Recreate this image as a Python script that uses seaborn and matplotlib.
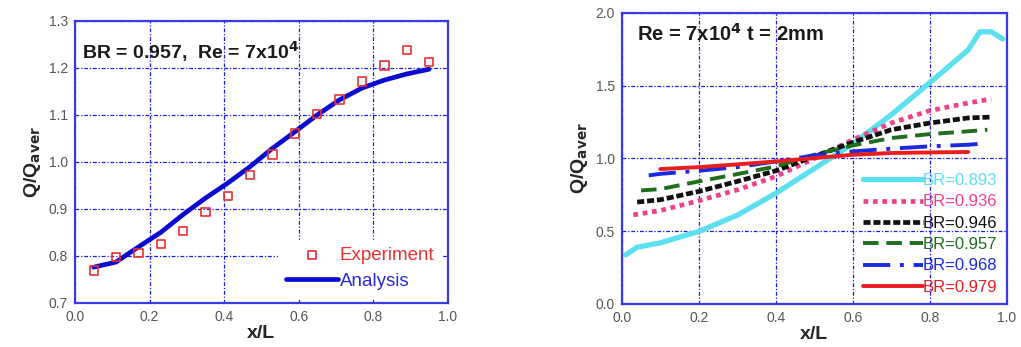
import numpy as np
import pandas as pd
import matplotlib
matplotlib.use("Agg")
import matplotlib.pyplot as plt
import seaborn as sns

sns.set_style("white")
plt.rcParams["font.family"] = ["Liberation Sans", "DejaVu Sans"]

# ---- left panel data: BR = 0.957 ----
exp_x = [0.05, 0.11, 0.17, 0.23, 0.29, 0.35, 0.41, 0.47, 0.53, 0.59, 0.65, 0.71, 0.77, 0.83, 0.89, 0.95]
exp_y = [0.769, 0.798, 0.806, 0.825, 0.853, 0.894, 0.928, 0.972, 1.016, 1.060, 1.102, 1.133, 1.171, 1.205, 1.238, 1.212]
ana_x = [0.05, 0.11, 0.17, 0.23, 0.29, 0.35, 0.41, 0.47, 0.53, 0.59, 0.65, 0.71, 0.77, 0.83, 0.89, 0.95]
ana_y = [0.776, 0.787, 0.819, 0.850, 0.888, 0.923, 0.955, 0.990, 1.029, 1.064, 1.100, 1.132, 1.157, 1.174, 1.187, 1.197]

# ---- right panel data: several blockage ratios ----
br893_x = [0.01, 0.04, 0.10, 0.20, 0.30, 0.40, 0.50, 0.60, 0.70, 0.80, 0.90, 0.93, 0.96, 0.99]
br893_y = [0.337, 0.390, 0.420, 0.498, 0.610, 0.760, 0.930, 1.100, 1.300, 1.520, 1.745, 1.870, 1.870, 1.820]
br936_x = [0.03, 0.10, 0.20, 0.30, 0.40, 0.50, 0.60, 0.70, 0.80, 0.90, 0.96]
br936_y = [0.612, 0.642, 0.709, 0.784, 0.876, 1.000, 1.128, 1.243, 1.328, 1.381, 1.408]
br946_x = [0.04, 0.10, 0.20, 0.30, 0.40, 0.50, 0.60, 0.70, 0.80, 0.90, 0.96]
br946_y = [0.700, 0.716, 0.773, 0.842, 0.915, 1.014, 1.110, 1.197, 1.243, 1.278, 1.284]
br957_x = [0.05, 0.10, 0.20, 0.30, 0.40, 0.50, 0.60, 0.70, 0.80, 0.90, 0.95]
br957_y = [0.780, 0.789, 0.842, 0.892, 0.945, 1.025, 1.089, 1.140, 1.167, 1.186, 1.197]
br968_x = [0.07, 0.10, 0.20, 0.30, 0.40, 0.50, 0.60, 0.70, 0.80, 0.90, 0.93]
br968_y = [0.883, 0.894, 0.915, 0.940, 0.979, 1.021, 1.048, 1.067, 1.083, 1.094, 1.100]
br979_x = [0.10, 0.20, 0.30, 0.40, 0.50, 0.60, 0.70, 0.80, 0.90]
br979_y = [0.927, 0.940, 0.959, 0.979, 1.002, 1.025, 1.037, 1.041, 1.044]

ticks_x = [0.0, 0.2, 0.4, 0.6, 0.8, 1.0]
ticks_left_y = [0.7, 0.8, 0.9, 1.0, 1.1, 1.2, 1.3]
ticks_right_y = [0.0, 0.5, 1.0, 1.5, 2.0]

fig = plt.figure(figsize=(10.21, 3.47), dpi=100)
ax1 = fig.add_axes([0.0735, 0.127, 0.365, 0.813])
ax2 = fig.add_axes([0.609, 0.124, 0.377, 0.839])

frame_col = "#3a3ae0"
grid_col = "#1a1ae6"


def style_axes(ax, yticks, ylim):
    ax.set_xlim(0, 1)
    ax.set_ylim(*ylim)
    ax.set_xticks(ticks_x)
    ax.set_yticks(yticks)
    ax.set_xticklabels([f"{t:.1f}" for t in ticks_x])
    ax.set_yticklabels([f"{t:.1f}" for t in yticks])
    ax.tick_params(axis="both", length=0, labelsize=10, labelcolor="#555555", pad=5)
    for s in ax.spines.values():
        s.set_color(frame_col)
        s.set_linewidth(1.6)
    ax.grid(True, color=grid_col, linestyle=(0, (3, 1.5, 1, 1.5)), linewidth=0.9)
    ax.set_axisbelow(True)
    ax.set_xlabel("x/L", fontsize=14, fontweight="bold", labelpad=1)
    ax.set_ylabel(r"Q/Q$_{\mathbf{aver}}$", fontsize=14, fontweight="bold", labelpad=4)


# ---- left panel ----
style_axes(ax1, ticks_left_y, (0.7, 1.3))
sns.lineplot(x=ana_x, y=ana_y, ax=ax1, color="#0a0ad0", linewidth=3.4, label="Analysis", zorder=3)
sns.scatterplot(x=exp_x, y=exp_y, ax=ax1, marker="s", s=36, facecolors="none",
                edgecolor="#e83030", linewidth=1.2, label="Experiment", zorder=4)
h, l = ax1.get_legend_handles_labels()
order = [l.index("Experiment"), l.index("Analysis")]
leg1 = ax1.legend([h[i] for i in order], [l[i] for i in order], loc="lower right",
                  fontsize=13.5, frameon=True, framealpha=1, edgecolor="white",
                  facecolor="white", handlelength=2.8, handletextpad=0.1,
                  borderaxespad=0.3, labelspacing=0.45, borderpad=0.4)
for txt, c in zip(leg1.get_texts(), ["#e83030", "#2a2ad8"]):
    txt.set_color(c)
ax1.text(0.02, 0.935, r"BR = 0.957,  Re = 7x10$^{\mathbf{4}}$", transform=ax1.transAxes,
         fontsize=14, fontweight="bold", va="top", ha="left", color="#1a1a1a")

# ---- right panel ----
style_axes(ax2, ticks_right_y, (0.0, 2.0))
series = [
    (br893_x, br893_y, "BR=0.893", "#5ce0f0", "-", 3.8),
    (br936_x, br936_y, "BR=0.936", "#f0408a", (0, (1, 1)), 3.4),
    (br946_x, br946_y, "BR=0.946", "#111111", (0, (1.5, 0.6)), 3.4),
    (br957_x, br957_y, "BR=0.957", "#1e6e1e", (0, (4, 2)), 2.8),
    (br968_x, br968_y, "BR=0.968", "#1a2ae0", (0, (7, 2.5, 1, 2.5)), 2.8),
    (br979_x, br979_y, "BR=0.979", "#e81e1e", "-", 2.8),
]
for xs, ys, lab, col, ls, lw in series:
    sns.lineplot(x=xs, y=ys, ax=ax2, color=col, linestyle=ls, linewidth=lw, label=lab)

leg2 = ax2.legend(loc="lower right", fontsize=12, frameon=False, handlelength=3.6,
                  handletextpad=0.0, labelspacing=0.38, borderaxespad=0.15)
for txt, s in zip(leg2.get_texts(), series):
    txt.set_color(s[3])
ax2.text(0.04, 0.965, r"Re = 7x10$^{\mathbf{4}}$ t = 2mm", transform=ax2.transAxes,
         fontsize=14.5, fontweight="bold", va="top", ha="left", color="#1a1a1a")

fig.savefig("out.png", dpi=100)
